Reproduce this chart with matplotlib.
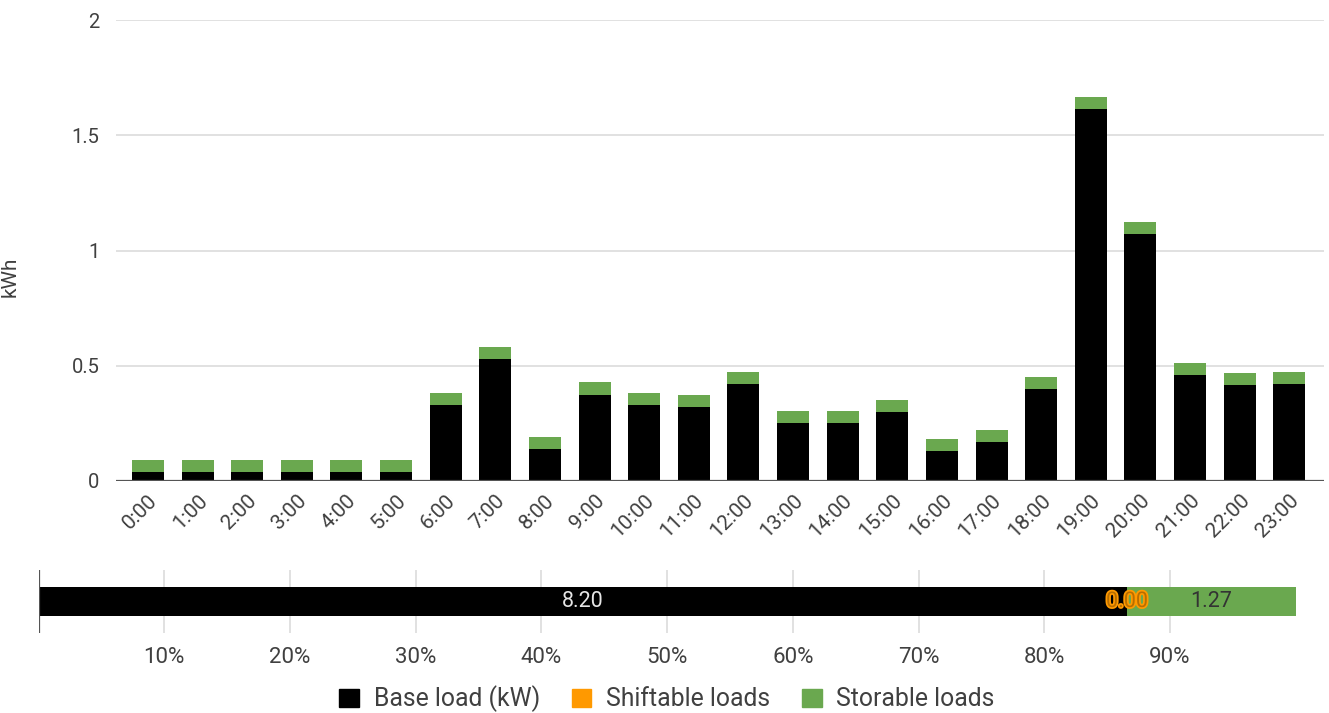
import numpy as np
import matplotlib
matplotlib.use("Agg")
import matplotlib.pyplot as plt
import matplotlib.patheffects as pe
from matplotlib.patches import Patch

plt.rcParams["font.family"] = ["Roboto", "DejaVu Sans"]

# Hourly consumption (kWh)
hours = [f"{h}:00" for h in range(24)]
base_load = [0.04, 0.04, 0.04, 0.04, 0.04, 0.04,
             0.33, 0.53, 0.14, 0.375, 0.33, 0.32,
             0.42, 0.25, 0.25, 0.30, 0.13, 0.17,
             0.40, 1.615, 1.07, 0.46, 0.415, 0.42]
shiftable_loads = [0.0] * 24
storable_loads = [0.053] * 24

# Daily totals per load type
series_names = ["Base load (kW)", "Shiftable loads", "Storable loads"]
daily_totals = [8.20, 0.00, 1.27]
pct_ticks = [10, 20, 30, 40, 50, 60, 70, 80, 90]

colors = ["#000000", "#ff9900", "#6aa84f"]
text_color = "#404040"
grid_color = "#dcdcdc"

W, H = 1329, 713
fig = plt.figure(figsize=(W / 100, H / 100), dpi=100)

# ---- hourly stacked columns ----
ax = fig.add_axes([116 / W, 1 - 481 / H, 1208 / W, 461 / H])
x = np.arange(len(hours))
bw = 0.645
b = np.array(base_load)
s = np.array(shiftable_loads)
st = np.array(storable_loads)
ax.bar(x, b, bw, color=colors[0], zorder=3)
ax.bar(x, s, bw, bottom=b, color=colors[1], zorder=3)
ax.bar(x, st, bw, bottom=b + s, color=colors[2], zorder=3)

ax.set_xlim(-0.645, 23.70)
ax.set_ylim(0, 2)
ax.set_yticks([0, 0.5, 1, 1.5, 2])
ax.set_yticklabels(["0", "0.5", "1", "1.5", "2"])
ax.yaxis.grid(True, color=grid_color, lw=1.2, zorder=0)
ax.axhline(0, color="#555555", lw=1.6, zorder=4)
for sp in ax.spines.values():
    sp.set_visible(False)
ax.tick_params(axis="y", length=0, pad=12, labelsize=14.5, labelcolor=text_color)
ax.tick_params(axis="x", length=0, pad=7, labelsize=15, labelcolor=text_color)
ax.set_xticks(x)
ax.set_xticklabels(hours, rotation=45, ha="right", va="top",
                   rotation_mode="anchor")
ax.set_ylabel("kWh", fontsize=15, color=text_color)
ax.yaxis.set_label_coords(-0.0795, 0.4425)

# ---- 100% stacked summary bar ----
ax2 = fig.add_axes([38.6 / W, 1 - 633 / H, 1257 / W, 63 / H])
totals = np.array(daily_totals)
shares = totals / totals.sum() * 100
left = 0.0
label_styles = [
    dict(color="#e6e6e6"),
    dict(color="#b86e00",
         path_effects=[pe.withStroke(linewidth=2.5, foreground="#ff9900")]),
    dict(color="#333333"),
]
for val, share, col, sty in zip(totals, shares, colors, label_styles):
    ax2.barh(0, share, 0.46, left=left, color=col, zorder=3)
    ax2.text(left + share / 2, 0, f"{val:.2f}", ha="center", va="center",
             fontsize=15.5, zorder=5, **sty)
    left += share
ax2.set_xlim(0, 100)
ax2.set_ylim(-0.5, 0.5)
ax2.set_yticks([])
ax2.set_xticks(pct_ticks)
ax2.set_xticklabels([f"{p}%" for p in pct_ticks])
ax2.xaxis.grid(True, color=grid_color, lw=1.2, zorder=0)
ax2.axvline(0, color="#555555", lw=1.6, zorder=4)
for sp in ax2.spines.values():
    sp.set_visible(False)
ax2.tick_params(axis="x", length=0, pad=10, labelsize=16, labelcolor=text_color)

# ---- legend ----
handles = [Patch(facecolor=c, edgecolor=c) for c in colors]
fig.legend(handles, series_names, loc="center", bbox_to_anchor=(0.502, 0.0196),
           ncol=3, frameon=False, fontsize=17.8, handlelength=0.78,
           handleheight=0.78, handletextpad=0.6, columnspacing=1.3,
           labelcolor=text_color, borderaxespad=0, borderpad=0)

fig.savefig("out.png", dpi=100, facecolor="white")
